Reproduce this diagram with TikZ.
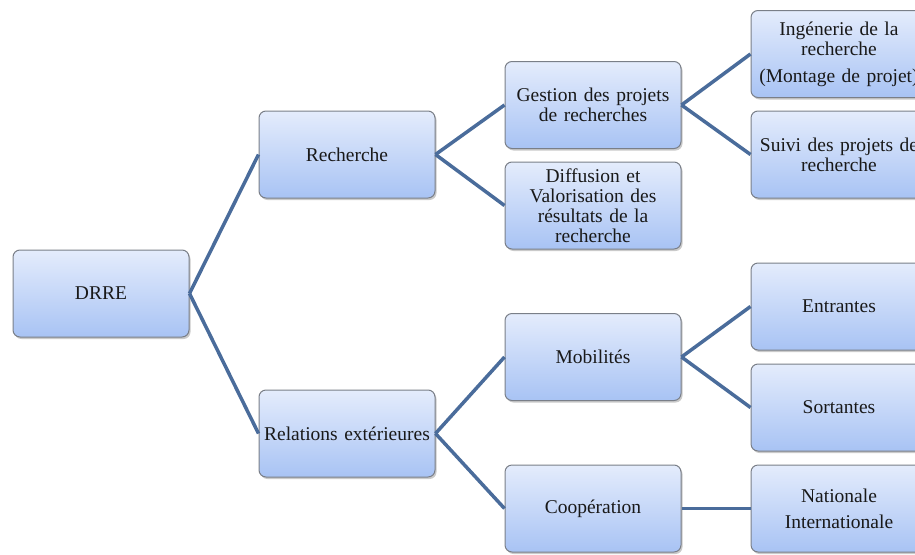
\documentclass[tikz,border=0pt]{standalone}
\usepackage{fontspec}
\setmainfont{Liberation Serif}
\usetikzlibrary{shadows}
\definecolor{boxtop}{HTML}{E4ECFC}
\definecolor{boxbot}{HTML}{A8C3F4}
\definecolor{boxline}{HTML}{7A7F88}
\definecolor{linkc}{HTML}{4A6C9B}
\begin{document}
\begin{tikzpicture}[x=1pt,y=-1pt,
  box/.style={rectangle, rounded corners=7pt, draw=boxline, line width=1pt,
    top color=boxtop, bottom color=boxbot, minimum width=176pt, minimum height=87pt,
    text width=174pt, align=center, inner sep=1pt,
    font=\fontsize{19.5}{20}\selectfont, text=black!90,
    drop shadow={shadow xshift=1.5pt, shadow yshift=-2pt, opacity=0.35, fill=black!60}},
  link/.style={draw=linkc, line width=3.5pt}]
\useasboundingbox (0,0) rectangle (915,554);
\clip (0,0) rectangle (915,554);
\node[box] (drre) at (101,293.5) {DRRE};
\node[box] (rech) at (347,154.5) {Recherche};
\node[box] (rel) at (347,433.5) {Relations extérieures};
\node[box] (gest) at (593,105) {Gestion des projets\\de recherches};
\node[box] (diff) at (593,205.5) {Diffusion et\\Valorisation des\\résultats de la\\recherche};
\node[box] (mob) at (593,357) {Mobilités};
\node[box] (coop) at (593,508.5) {Coopération};
\node[box] (ing) at (839,54) {Ingénerie de la\\recherche\\[7pt](Montage de projet)};
\node[box] (suivi) at (839,154.5) {Suivi des projets de\\recherche};
\node[box] (entr) at (839,306.5) {Entrantes};
\node[box] (sort) at (839,407.5) {Sortantes};
\node[box] (nat) at (839,508.5) {Nationale\\[6pt]Internationale};
\draw[link] (drre.east) -- (rech.west);
\draw[link] (drre.east) -- (rel.west);
\draw[link] (rech.east) -- (gest.west);
\draw[link] (rech.east) -- (diff.west);
\draw[link] (rel.east) -- (mob.west);
\draw[link] (rel.east) -- (coop.west);
\draw[link] (gest.east) -- (ing.west);
\draw[link] (gest.east) -- (suivi.west);
\draw[link] (mob.east) -- (entr.west);
\draw[link] (mob.east) -- (sort.west);
\draw[link] (coop.east) -- (nat.west);
\end{tikzpicture}
\end{document}
